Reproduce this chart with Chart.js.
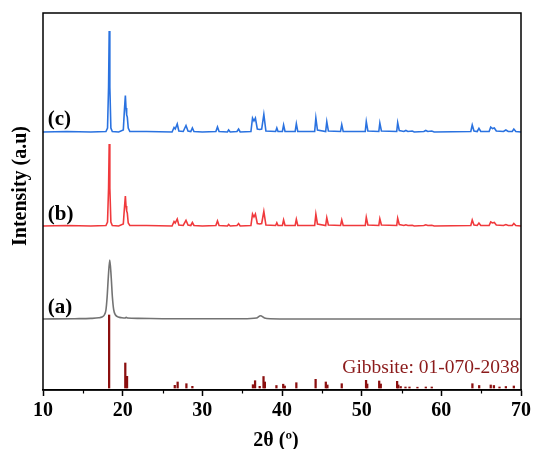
<!DOCTYPE html>
<html>
<head>
<meta charset="utf-8">
<script src="https://cdn.jsdelivr.net/npm/chart.js@4.4.1/dist/chart.umd.min.js"></script>
<style>
  html, body { margin: 0; padding: 0; background: #fff; }
  #wrap { width: 534px; height: 449px; }
</style>
</head>
<body>
<div id="wrap"><canvas id="xrd" width="534" height="449"></canvas></div>
<script>
// 2θ range and tick labels
const twoThetaMin = 10;
const twoThetaMax = 70;
const xTickLabels = [10, 20, 30, 40, 50, 60, 70];

// Pattern (c): [2θ, intensity above its baseline]
const patternC = [
  [10,0],[13,0.5],[16,0],[17.9,0.5],[18.1,4],[18.23,45],[18.31,101],[18.39,45],[18.52,4],[18.7,0.5],
  [19.5,0],[20.08,2],[20.22,22],[20.34,36.5],[20.42,24],[20.5,17],[20.58,15],[20.7,4],[20.9,0.5],
  [23,0.5],[26.2,0],[26.45,4.5],[26.6,3],[26.85,8],[27.05,1],[27.6,0.5],[27.95,6.5],[28.2,1],
  [28.55,0.5],[28.75,4],[28.95,0.5],[30,0],[31.7,0.5],[31.9,5],[32.1,0.5],[33.15,0],[33.3,2],
  [33.5,0],[34.35,0.5],[34.55,3],[34.75,0],[36.1,0.5],[36.3,14],[36.48,11],[36.66,14],[36.9,3],
  [37.2,2.5],[37.45,3],[37.72,17.5],[37.98,1],[39.2,0.5],[39.35,4],[39.5,0.5],[40.05,0.5],
  [40.2,7],[40.38,0.5],[41.65,0.5],[41.8,8.3],[41.98,0.5],[44.1,0.5],[44.25,14],[44.45,2],
  [45.48,0.5],[45.62,10.3],[45.82,1],[47.35,0.5],[47.5,7.3],[47.68,0.5],[50.45,0.5],[50.58,10.3],
  [50.78,1],[52.15,0.5],[52.28,9],[52.48,1],[54.4,0.5],[54.52,9.3],[54.72,1.5],[55,1],[55.3,0.5],
  [55.55,1.5],[55.8,0.5],[56.35,1],[56.6,0],[57.8,0.5],[58.05,1.5],[58.3,0.5],[58.8,1],[59.1,0],
  [63.7,0.5],[63.88,7],[64.1,1],[64.5,0.5],[64.72,3.7],[64.95,0.5],[66,0.5],[66.2,5],[66.42,3.5],
  [66.65,4],[66.9,1],[67.8,0.5],[68.1,2],[68.4,0.5],[68.9,0.5],[69.1,3],[69.35,0.5],[70,0]
];

// Pattern (b)
const patternB = [
  [10,0],[13,0.5],[16,0],[17.9,0.5],[18.1,4],[18.23,38],[18.31,82],[18.39,38],[18.52,4],[18.7,0.5],
  [19.5,0],[20.08,2],[20.22,18],[20.34,30],[20.42,20],[20.5,15],[20.58,13],[20.7,3],[20.9,0.5],
  [23,0.5],[26.2,0],[26.45,4.5],[26.6,3],[26.85,7],[27.05,1],[27.6,0.5],[27.95,5.7],[28.2,1],
  [28.55,0.5],[28.75,3.5],[28.95,0.5],[30,0],[31.7,0.5],[31.9,5],[32.1,0.5],[33.15,0],[33.3,1.5],
  [33.5,0],[34.35,0.5],[34.55,2.5],[34.75,0],[36.1,0.5],[36.3,12],[36.48,9],[36.66,12],[36.9,2.5],
  [37.2,2],[37.45,2.5],[37.72,14.5],[37.98,1],[39.2,0.5],[39.35,3.3],[39.5,0.5],[40.05,0.5],
  [40.2,6],[40.38,0.5],[41.65,0.5],[41.8,6.7],[41.98,0.5],[44.1,0.5],[44.25,11.7],[44.45,2],
  [45.48,0.5],[45.62,8.3],[45.82,1],[47.35,0.5],[47.5,6],[47.68,0.5],[50.45,0.5],[50.58,8.7],
  [50.78,1],[52.15,0.5],[52.28,7.3],[52.48,1],[54.4,0.5],[54.52,7.7],[54.72,1.5],[55,1],[55.3,0.5],
  [55.55,1.2],[55.8,0.5],[56.35,0.8],[56.6,0],[57.8,0.5],[58.05,1.2],[58.3,0.5],[58.8,0.8],[59.1,0],
  [63.7,0.5],[63.88,6],[64.1,1],[64.5,0.5],[64.72,3],[64.95,0.5],[66,0.5],[66.2,4],[66.42,3],
  [66.65,3.5],[66.9,1],[67.8,0.5],[68.1,1.5],[68.4,0.5],[68.9,0.5],[69.1,2.5],[69.35,0.5],[70,0]
];

// Pattern (a): broad single reflection
const patternA = [
  [10,0],[14,0.3],[16,0.6],[17,1.2],[17.4,2],[17.7,4],[17.9,9],[18.05,22],[18.2,42],
  [18.38,59],[18.56,42],[18.71,22],[18.88,9],[19.1,4],[19.45,2],[19.9,1.3],[20.3,1],
  [20.45,1.8],[20.6,1],[22,0.6],[25,0.3],[30,0.2],[35,0.3],[36.8,1],[37.3,3.2],[37.8,1],
  [38.5,0.3],[45,0],[70,0]
];

// Gibbsite reference lines (01-070-2038)
const refPositions = [18.3, 20.33, 20.55, 26.54, 26.9, 28.0, 28.75, 36.35, 36.62, 37.2, 37.68, 37.85,
  39.3, 40.15, 40.35, 41.8, 44.22, 45.5, 45.7, 47.5, 50.55, 50.7, 52.2, 52.4, 54.45, 54.6, 54.9,
  55.5, 56.0, 57.0, 58.05, 58.8, 63.9, 64.75, 66.2, 66.6, 67.3, 68.1, 69.1];
const refIntensities = [73, 25, 11.7, 2.7, 6, 4.3, 1.7, 3.3, 7.3, 1.7, 11.5, 6,
  2.5, 3.8, 2, 5.3, 8.7, 6, 3, 4.3, 7.7, 4, 7, 4, 6.7, 3, 1.5,
  1, 1, 0.8, 1, 1, 4.3, 2.5, 3, 2.5, 1, 1.5, 2];

// Vertical stacking offsets
const offsetC = 258, offsetB = 164, offsetA = 71, offsetRef = 2;

const stacked = (pts, off) => pts.map(([x, y]) => ({ x: x, y: y + off }));

const serif = '"Liberation Serif", "Times New Roman", serif';

const decorations = {
  id: 'decorations',
  afterDraw(chart) {
    const { ctx, chartArea: a, scales: { x, y } } = chart;
    ctx.save();
    // frame
    ctx.strokeStyle = '#000';
    ctx.lineWidth = 1.5;
    ctx.strokeRect(a.left, a.top, a.right - a.left, a.bottom - a.top);
    // minor ticks
    ctx.lineWidth = 1.2;
    for (let v = 15; v < 70; v += 10) {
      const px = Math.round(x.getPixelForValue(v)) + 0.5;
      ctx.beginPath();
      ctx.moveTo(px, a.bottom);
      ctx.lineTo(px, a.bottom + 3.5);
      ctx.stroke();
    }
    // pattern labels
    ctx.fillStyle = '#000';
    ctx.font = 'bold 21px ' + serif;
    ctx.textAlign = 'left';
    ctx.textBaseline = 'middle';
    ctx.fillText('(c)', x.getPixelForValue(10.6), y.getPixelForValue(offsetC + 12));
    ctx.fillText('(b)', x.getPixelForValue(10.6), y.getPixelForValue(offsetB + 11));
    ctx.fillText('(a)', x.getPixelForValue(10.6), y.getPixelForValue(offsetA + 11));
    // reference card label
    ctx.fillStyle = '#8b1a1a';
    ctx.font = '19.5px ' + serif;
    ctx.textAlign = 'right';
    ctx.textBaseline = 'alphabetic';
    ctx.fillText('Gibbsite: 01-070-2038', x.getPixelForValue(69.8), y.getPixelForValue(17.5));
    // axis titles
    ctx.fillStyle = '#000';
    ctx.font = 'bold 20px ' + serif;
    ctx.textAlign = 'center';
    ctx.textBaseline = 'middle';
    ctx.fillText('2θ (º)', (a.left + a.right) / 2 - 6, 441);
    ctx.translate(21, 186);
    ctx.rotate(-Math.PI / 2);
    ctx.fillText('Intensity (a.u)', 0, 0);
    ctx.restore();
  }
};

new Chart(document.getElementById('xrd'), {
  data: {
    datasets: [
      { type: 'line', label: '(c)', data: stacked(patternC, offsetC), borderColor: '#2a72e0',
        borderWidth: 1.6, pointRadius: 0, tension: 0 },
      { type: 'line', label: '(b)', data: stacked(patternB, offsetB), borderColor: '#f0393c',
        borderWidth: 1.6, pointRadius: 0, tension: 0 },
      { type: 'line', label: '(a)', data: stacked(patternA, offsetA), borderColor: '#737373',
        borderWidth: 1.6, pointRadius: 0, cubicInterpolationMode: 'monotone' },
      { type: 'bar', label: 'Gibbsite', data: refPositions.map((p, i) => ({ x: p, y: [offsetRef, offsetRef + refIntensities[i]] })),
        backgroundColor: '#8b0f0f', barThickness: 1.6, grouped: false }
    ]
  },
  options: {
    responsive: false,
    animation: false,
    layout: { padding: { left: 43, right: 12, top: 13, bottom: 23 } },
    plugins: { legend: { display: false }, tooltip: { enabled: false } },
    scales: {
      x: {
        type: 'linear', min: twoThetaMin, max: twoThetaMax, offset: false,
        afterBuildTicks: (s) => { s.ticks = xTickLabels.map(v => ({ value: v })); },
        ticks: { color: '#000', padding: 3, font: { family: serif, size: 20, weight: 'bold' } },
        grid: { display: true, offset: false, drawOnChartArea: false, drawTicks: true, tickLength: 6, tickWidth: 1.5, tickColor: '#000' },
        border: { display: true, color: '#000', width: 1.5 }
      },
      y: { display: false, min: 0, max: 377 }
    }
  },
  plugins: [decorations]
});
</script>
</body>
</html>
